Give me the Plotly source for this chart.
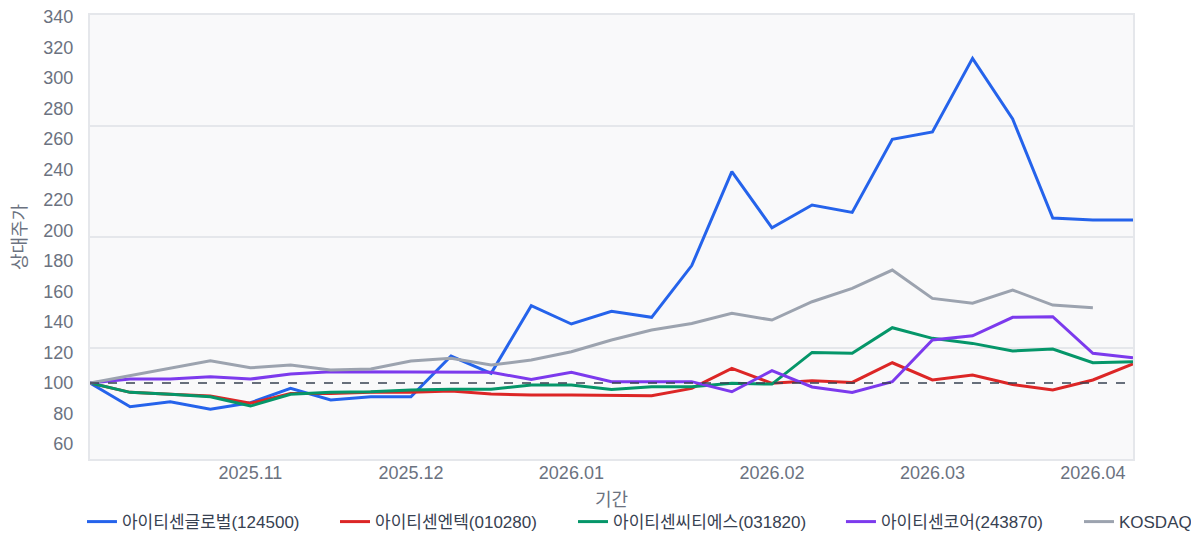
import pandas as pd
import plotly.graph_objects as go

# weekly dates (27 points)
dates = pd.date_range("2025-10-10", periods=27, freq="7D").strftime("%Y-%m-%d").tolist()

global_124500 = [100, 84.5, 87.7, 82.9, 87.1, 96.5, 88.9, 91.0, 91.0, 117.7,
                 106.4, 150.7, 138.7, 147.0, 143.1, 177.0, 238.6, 201.8, 216.7, 211.9,
                 259.8, 264.6, 312.9, 273.1, 208.2, 206.9, 206.9]
entec_010280 = [100, 93.9, 92.6, 91.5, 86.7, 93.2, 93.2, 93.9, 93.9, 94.8,
                92.8, 92.1, 92.1, 91.7, 91.7, 96.5, 109.6, 99.8, 101.5, 100.4,
                113.3, 102.0, 105.2, 99.1, 95.4, 102.0, 112.5]
cts_031820 = [100, 93.9, 92.6, 91.0, 84.9, 92.6, 93.9, 94.3, 95.4, 96.0,
              96.0, 98.7, 98.7, 95.8, 97.6, 97.6, 99.8, 99.3, 120.1, 119.5,
              136.3, 129.3, 126.0, 121.0, 122.3, 113.3, 114.0]
core_243870 = [100, 102.6, 102.6, 104.1, 102.6, 105.9, 107.4, 107.4, 107.0, 107.0,
               107.0, 102.4, 107.0, 100.9, 100.9, 100.9, 94.3, 108.1, 97.4, 93.8,
               100.9, 128.2, 131.0, 143.1, 143.5, 119.5, 116.6]
kosdaq = [100, 104.8, 110.0, 114.6, 110.0, 111.8, 108.5, 109.2, 114.4, 116.2,
          111.8, 115.1, 120.5, 128.2, 134.8, 139.1, 145.7, 141.3, 153.3, 162.1,
          174.1, 155.5, 152.3, 161.0, 151.1, 149.4, None]

series_names = ["아이티센글로벌(124500)", "아이티센엔텍(010280)", "아이티센씨티에스(031820)",
                "아이티센코어(243870)", "KOSDAQ"]
series_values = [global_124500, entec_010280, cts_031820, core_243870, kosdaq]
series_colors = ["#2563eb", "#dc2626", "#059669", "#7c3aed", "#9ca3af"]

tick_idx = [4, 8, 12, 17, 21, 25]
tick_text = ["2025.11", "2025.12", "2026.01", "2026.02", "2026.03", "2026.04"]

BASE = 100
Y_MIN, Y_MAX = 50.2, 341.3
y_ticks = list(range(60, 341, 20))

font_family = "Liberation Sans, Noto Sans CJK KR, sans-serif"
gray_text = "#6b7280"

# one legend per series so the entries sit where the original puts them
legend_x = [-0.0077, 0.2349, 0.4631, 0.7200, 0.9482]

fig = go.Figure()

# baseline (also anchors the grid axis)
fig.add_trace(go.Scatter(
    x=dates, y=[BASE] * len(dates), mode="lines", yaxis="y2",
    line=dict(color="#374151", width=1.5, dash="dash"),
    showlegend=False, hoverinfo="skip"
))

legend_layouts = {}
for i, (name, vals, color) in enumerate(zip(series_names, series_values, series_colors)):
    key = "legend" if i == 0 else f"legend{i + 1}"
    fig.add_trace(go.Scatter(
        x=dates, y=vals, mode="lines", name=name, legend=key,
        line=dict(color=color, width=3)
    ))
    legend_layouts[key] = dict(
        orientation="h", x=legend_x[i], xanchor="left", y=-0.142, yanchor="middle",
        font=dict(size=17, color="#374151"), itemwidth=30, bgcolor="rgba(0,0,0,0)",
    )

# page body has an 8px margin, so the figure is sized to the visible window
fig.update_layout(
    width=1191, height=527,
    margin=dict(l=82, r=66, t=7, b=76, autoexpand=False),
    paper_bgcolor="white",
    plot_bgcolor="#f9f9fa",
    font=dict(family=font_family, size=18, color=gray_text),
    xaxis=dict(
        type="category", range=[0, len(dates) - 1], automargin=False,
        tickmode="array", tickvals=[dates[i] for i in tick_idx], ticktext=tick_text,
        showgrid=False, showline=True, mirror=True, linecolor="#e5e7eb", linewidth=2,
        ticks="", ticklabelstandoff=-4, tickfont=dict(size=18, color=gray_text),
        title=dict(text="기간", font=dict(size=18, color=gray_text), standoff=12),
    ),
    yaxis=dict(
        range=[Y_MIN, Y_MAX], tickmode="array", tickvals=y_ticks, automargin=False,
        showgrid=False, zeroline=False, showline=True, mirror=True,
        linecolor="#e5e7eb", linewidth=2, ticks="", ticklabelstandoff=11,
        ticklabeloverflow="allow",
        tickfont=dict(size=18, color=gray_text),
        title=dict(text="상대주가", font=dict(size=18, color=gray_text), standoff=12),
    ),
    yaxis2=dict(
        range=[Y_MIN, Y_MAX], overlaying="y", side="left", automargin=False,
        tickmode="linear", tick0=Y_MIN, dtick=(Y_MAX - Y_MIN) / 4,
        showticklabels=False, showgrid=True, gridcolor="#e5e7eb", gridwidth=1.5,
        zeroline=False, showline=False, ticks="",
    ),
    **legend_layouts,
)

fig.write_html("out.html")
